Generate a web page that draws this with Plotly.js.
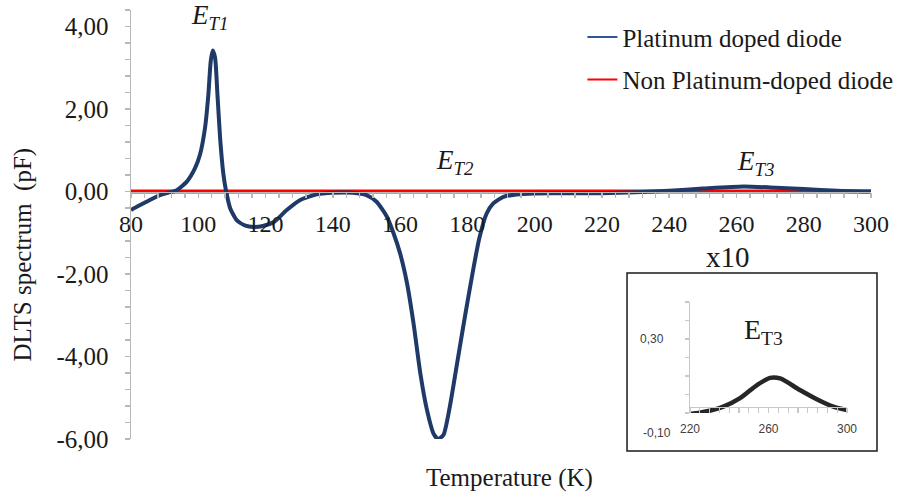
<!DOCTYPE html>
<html>
<head>
<meta charset="utf-8">
<script src="https://cdn.plot.ly/plotly-3.0.1.min.js"></script>
<style>
  html, body { margin: 0; padding: 0; background: #ffffff; }
  #chart { width: 913px; height: 495px; }
</style>
</head>
<body>
<div id="chart"></div>
<script>
// ---- Data ----
const temperature = [80, 82, 84.6, 86.5, 88.6, 91, 93.6, 96.6, 99, 100.5, 102, 103, 103.7, 104.3, 105, 105.7, 106.5, 107.5, 108.3, 109.5, 111.5, 114, 116.5, 119.5, 122.5, 126.3, 130.2, 135.2, 140, 146, 150, 153, 156, 158, 160, 162, 164, 166, 168, 170, 171.3, 172.9, 174.8, 176.8, 179.3, 181.5, 183.5, 185.7, 187.7, 190.7, 194.6, 200, 210, 220, 230, 240, 250, 262, 270, 280, 290, 300];
const platinumDoped = [-0.45, -0.36, -0.25, -0.17, -0.09, -0.03, 0.03, 0.24, 0.56, 0.89, 1.54, 2.35, 3.16, 3.42, 3.24, 2.35, 1.29, 0.4, 0.0, -0.41, -0.70, -0.83, -0.86, -0.83, -0.74, -0.45, -0.21, -0.07, -0.03, -0.03, -0.09, -0.25, -0.6, -1.0, -1.5, -2.2, -3.2, -4.4, -5.3, -5.88, -6.0, -5.9, -5.21, -4.24, -3.02, -2.0, -1.15, -0.54, -0.29, -0.13, -0.07, -0.05, -0.04, -0.04, -0.02, 0.02, 0.07, 0.12, 0.10, 0.06, 0.02, 0.0];
const nonPtTemperature = [80, 300];
const nonPlatinumDoped = [0, 0];

const seriesNames = ["Platinum doped diode", "Non Platinum-doped diode"];

const insetTemperature = [220, 225, 230, 237, 245.5, 254, 260.8, 265.9, 276, 284.6, 293, 300];
const insetValue = [-0.105, -0.098, -0.088, -0.066, -0.02, 0.05, 0.09, 0.087, 0.024, -0.026, -0.066, -0.084];

const yTickVals = [-6, -4, -2, 0, 2, 4];
const yTickText = ["-6,00", "-4,00", "-2,00", "0,00", "2,00", "4,00"];
const xTickVals = [80, 100, 120, 140, 160, 180, 200, 220, 240, 260, 280, 300];
const xTickText = ["80", "100", "120", "140", "160", "180", "200", "220", "240", "260", "280", "300"];

const insetXTickVals = [220, 260, 300];
const insetXTickText = ["220", "260", "300"];
const insetYTickVals = [0.3];
const insetYTickText = ["0,30"];
const insetYLowLabel = "-0,10";

const peakLabels = ["<i>E<sub>T1</sub></i>", "<i>E<sub>T2</sub></i>", "<i>E<sub>T3</sub></i>"];

// ---- Styling ----
const serif = "Liberation Serif";
const sans = "Liberation Sans";
const navy = "#1f3a68";
const axisGray = "#b8b8b8";
const txt = "#1a1a1a";

const traces = [
  { x: nonPtTemperature, y: nonPlatinumDoped, type: "scatter", mode: "lines",
    line: { color: "#ff0000", width: 4 }, showlegend: false, hoverinfo: "skip" },
  { x: temperature, y: platinumDoped, type: "scatter", mode: "lines",
    line: { color: navy, width: 4, shape: "spline", smoothing: 0.6 }, showlegend: false, hoverinfo: "skip" },
  // legend samples
  { x: [null], y: [null], type: "scatter", mode: "lines", name: seriesNames[0], legendgroup: "a",
    line: { color: "#2f5597", width: 2 } },
  { x: [null], y: [null], type: "scatter", mode: "lines", name: seriesNames[1], legendgroup: "b",
    line: { color: "#ff0000", width: 2 } },
  // inset
  { x: insetTemperature, y: insetValue, xaxis: "x2", yaxis: "y2", type: "scatter", mode: "lines",
    line: { color: "#262626", width: 4.5, shape: "spline", smoothing: 0.8 }, showlegend: false, hoverinfo: "skip" }
];

const layout = {
  width: 913, height: 495,
  margin: { l: 131, r: 42, t: 10, b: 56 },
  paper_bgcolor: "#ffffff", plot_bgcolor: "rgba(0,0,0,0)",
  font: { family: serif, color: txt },
  showlegend: true,
  legend: {
    x: 0.61, y: 0.99, xanchor: "left", yanchor: "top",
    font: { family: serif, size: 25, color: txt },
    bgcolor: "rgba(0,0,0,0)", traceorder: "grouped", tracegroupgap: 7,
    itemwidth: 30
  },
  xaxis: {
    range: [80, 300], anchor: "free", position: 6 / 10.4,
    showgrid: false, zeroline: false,
    showline: true, linecolor: axisGray, linewidth: 1.5,
    tickmode: "array", tickvals: xTickVals, ticktext: xTickText,
    ticks: "outside", ticklen: 5, tickcolor: axisGray, tickwidth: 1.5,
    minor: { tickmode: "linear", tick0: 80, dtick: 4, ticks: "outside", ticklen: 5, tickcolor: axisGray, tickwidth: 1.5 },
    tickfont: { family: serif, size: 24, color: txt },
    ticklabelstandoff: 5
  },
  yaxis: {
    range: [-6, 4.4], domain: [0, 1],
    showgrid: false, zeroline: false,
    showline: true, linecolor: axisGray, linewidth: 1.5,
    tickmode: "array", tickvals: yTickVals, ticktext: yTickText,
    ticks: "outside", ticklen: 5, tickcolor: axisGray, tickwidth: 1.5,
    minor: { tickmode: "linear", tick0: -6, dtick: 0.4, ticks: "outside", ticklen: 5, tickcolor: axisGray, tickwidth: 1.5 },
    tickfont: { family: serif, size: 25, color: txt },
    ticklabelstandoff: 11
  },
  xaxis2: {
    domain: [0.7554, 0.9676], range: [220, 300], anchor: "free", position: 0.0746,
    showgrid: false, zeroline: false,
    showline: true, linecolor: "#c8c8c8", linewidth: 1.2,
    tickmode: "array", tickvals: insetXTickVals, ticktext: insetXTickText,
    ticks: "outside", ticklen: 5, tickcolor: "#c8c8c8", tickwidth: 1.2,
    minor: { tickmode: "linear", tick0: 220, dtick: 5, ticks: "outside", ticklen: 5, tickcolor: "#c8c8c8", tickwidth: 1.2 },
    tickfont: { family: sans, size: 12, color: "#404040" },
    ticklabelstandoff: 5
  },
  yaxis2: {
    domain: [0.0606, 0.3193], range: [-0.1, 0.5], anchor: "x2",
    showgrid: false, zeroline: false,
    showline: true, linecolor: "#c8c8c8", linewidth: 1.2,
    tickmode: "array", tickvals: insetYTickVals, ticktext: insetYTickText,
    ticks: "outside", ticklen: 4, tickcolor: "#c8c8c8", tickwidth: 1.2,
    minor: { tickmode: "linear", tick0: -0.1, dtick: 0.1, ticks: "outside", ticklen: 4, tickcolor: "#c8c8c8", tickwidth: 1.2 },
    tickfont: { family: sans, size: 12, color: "#404040" },
    ticklabelstandoff: 19
  },
  shapes: [
    { type: "rect", xref: "paper", yref: "paper", x0: 0.6703, x1: 1.0081, y0: -0.028, y1: 0.387,
      line: { color: txt, width: 1.5 }, fillcolor: "rgba(0,0,0,0)" }
  ],
  annotations: [
    { text: peakLabels[0], x: 103.3, y: 4.22, xref: "x", yref: "y", showarrow: false,
      font: { family: serif, size: 27, color: txt } },
    { text: peakLabels[1], x: 176.3, y: 0.72, xref: "x", yref: "y", showarrow: false,
      font: { family: serif, size: 27, color: txt } },
    { text: peakLabels[2], x: 265.8, y: 0.68, xref: "x", yref: "y", showarrow: false,
      font: { family: serif, size: 27, color: txt } },
    { text: "x10", x: 0.839, y: 0.424, xref: "paper", yref: "paper", showarrow: false,
      font: { family: serif, size: 29, color: txt } },
    { text: "E<sub>T3</sub>", x: 0.884, y: 0.205, xref: "paper", yref: "paper", showarrow: false,
      font: { family: serif, size: 28, color: txt } },
    { text: insetYLowLabel, x: (673 - 131) / 740, y: (439 - 433) / 429, xref: "paper", yref: "paper",
      xanchor: "right", yanchor: "middle", showarrow: false, font: { family: sans, size: 12, color: "#404040" } },
    { text: "Temperature (K)", x: 0.512, y: -0.092, xref: "paper", yref: "paper", xanchor: "center", yanchor: "middle",
      showarrow: false, font: { family: serif, size: 25, color: txt } },
    { text: "DLTS spectrum\u00a0 (pF)", x: -0.146, y: 0.43, xref: "paper", yref: "paper", showarrow: false,
      xanchor: "center", yanchor: "middle",
      textangle: -90, font: { family: serif, size: 25, color: txt } }
  ]
};

Plotly.newPlot("chart", traces, layout, { displayModeBar: false, staticPlot: true });
</script>
</body>
</html>
